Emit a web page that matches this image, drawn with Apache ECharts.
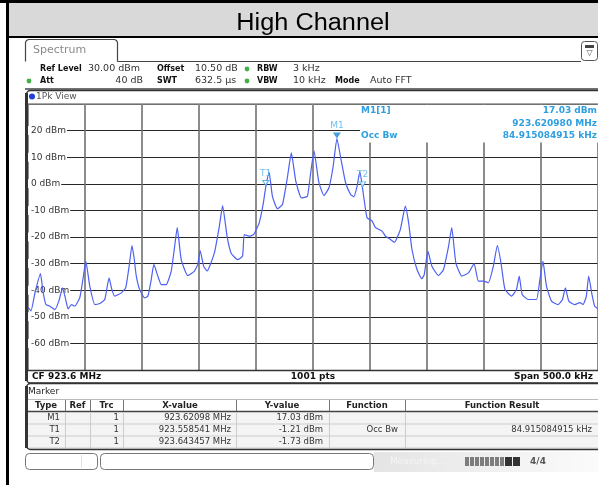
<!DOCTYPE html>
<html><head><meta charset="utf-8">
<script src="https://cdn.jsdelivr.net/npm/echarts@6/dist/echarts.min.js"></script>
<style>html,body{margin:0;padding:0;background:#fff}#c{width:598px;height:485px}</style>
</head><body><div id="c"></div><script>
// Sweep settings
const centerMHz = 923.6;
const spanKHz = 500;
const sweepPoints = 1001;
const levelTicks = [20, 10, 0, -10, -20, -30, -40, -50, -60];

// Trace 1 (1Pk View): offset from centre frequency in kHz, level in dBm
const traceOffsetKHz = [
  -250, -247.4, -243.9, -239.1, -236.9, -234.3, -230.8, -226.4, -222.9, -219.7,
  -217.2, -214.8, -211.8, -208.9, -204.5, -201.5, -199.3, -195.8, -191.4, -187.1,
  -182.7, -178.9, -176.6, -174.0, -168.1, -164.3, -161.3, -158.8, -156.9, -155.0,
  -152.1, -147.7, -144.8, -141.9, -139.6, -136.1, -133.1, -128.8, -124.4, -121.5,
  -119.1, -115.6, -109.9, -104.0, -101.1, -99.0, -95.9, -92.9, -86.5, -82.2,
  -79.3, -75.4, -71.9, -66.2, -61.8, -60.3, -55.9, -52.2, -47.2, -43.5,
  -41.46, -38.5, -35.6, -31.2, -26.8, -22.5, -19.0, -15.1, -10.2, -5.0,
  -3.5, 0.9, 5.2, 9.6, 14.0, 17.7, 20.98, 24.6, 28.6, 33.0,
  35.8, 38.7, 41.1, 43.46, 46.1, 47.5, 51.9, 54.8, 60.6, 63.6,
  67.9, 71.4, 76.6, 81.0, 83.9, 86.8, 91.2, 95.5, 97.6, 100.8,
  104.3, 110.1, 114.5, 118.9, 121.7, 125.3, 130.5, 136.4, 141.3, 145.1,
  149.5, 153.8, 158.2, 161.7, 164.9, 168.4, 174.2, 178.5, 180.9, 183.5,
  188.8, 196.0, 199.0, 201.7, 204.8, 209.2, 215.0, 218.8, 221.4, 224.4,
  229.6, 234.0, 236.9, 239.8, 241.8, 244.7, 247.1, 250
];
const traceLevelDbm = [
  -46.5, -47.8, -41, -33.8, -40.4, -45.4, -46, -47.3, -44, -39.1,
  -43, -47, -45.4, -46, -42.7, -35, -29.1, -38.5, -45.4, -45,
  -43.5, -35.4, -39.5, -42.2, -41, -39.1, -31, -23.2, -28, -34.7,
  -39.7, -42.9, -42.2, -36, -30.3, -34.7, -37.9, -37.9, -32.9, -24,
  -16.5, -28.5, -34.5, -32.8, -30.3, -25.1, -31, -32.8, -26, -16.1,
  -8.2, -19.7, -26, -28.5, -27.2, -19.1, -19.7, -19.1, -14.7, -7.1,
  -1.21, 4.3, -4.7, -9.4, -7.8, 2.3, 11.6, 1.0, -5.3, -4.7,
  -0.9, 12.4, 0.4, -4.4, -1.5, 6.6, 17.03, 9.1, 0.4, -4.0,
  -4.9, -0.9, 4.7, -1.73, -9.7, -12.8, -14, -16.5, -17.8, -19.7,
  -20.9, -22, -17.2, -8.4, -14.7, -24.7, -32.2, -35.7, -34.1, -25.3,
  -31, -34.5, -32.2, -23.5, -16.5, -29.7, -34.7, -33.5, -30, -36.6,
  -36.6, -37.2, -31, -23.2, -29.7, -39.7, -42.2, -39.7, -34.7, -41.6,
  -43.5, -43.5, -36, -29.1, -38.5, -44.1, -45.4, -43.5, -39.1, -44.1,
  -45.4, -44.7, -45.4, -42.2, -34.7, -41.6, -46, -47
];

// Marker table
const markerNames = ['M1', 'T1', 'T2'];
const markerTrace = [1, 1, 1];
const markerFreqMHz = [923.62098, 923.558541, 923.643457];
const markerLevelDbm = [17.03, -1.21, -1.73];
const markerFunction = ['', 'Occ Bw', ''];
const occBwKHz = 84.915084915;

const FONT = '"DejaVu Sans"';
const BLUE_TXT = '#2e9fe0';

function zOf(o, d) { return o.z != null ? o.z : d; }
function txt(x, y, s, o) {
  o = o || {};
  const size = o.size || 9;
  const weight = o.bold ? 'bold ' : '';
  const a = o.align || 'left';
  return {
    type: 'text', x: x, y: y, z: zOf(o, 5), silent: true,
    scaleX: o.scaleX || 1,
    style: {
      text: s, fill: o.color || '#222',
      font: weight + size + 'px ' + (o.family || FONT),
      align: a, verticalAlign: 'middle',
      textAlign: a, textVerticalAlign: 'middle'
    }
  };
}
function ln(x1, y1, x2, y2, color, w, z) {
  return { type: 'line', z: z != null ? z : 4, silent: true,
    shape: { x1: x1, y1: y1, x2: x2, y2: y2 },
    style: { stroke: color, lineWidth: w || 1 } };
}
function box(x, y, w, h, o) {
  o = o || {};
  return { type: 'rect', z: zOf(o, 3), silent: true,
    shape: { x: x, y: y, width: w, height: h, r: o.r || 0 },
    style: { fill: o.fill || 'none', stroke: o.stroke || null, lineWidth: o.lw || 1 } };
}
function dot(cx, cy, r, color) {
  return { type: 'circle', z: 5, silent: true,
    shape: { cx: cx, cy: cy, r: r }, style: { fill: color } };
}

const els = [];
// Page frame and heading
els.push(box(9, 3, 600, 33, { fill: '#d9d9d9', z: 1 }));
els.push(box(0, 0, 598, 3, { fill: '#000', z: 2 }));
els.push(box(6, 0, 3, 485, { fill: '#000', z: 2 }));
els.push(ln(6, 37, 598, 37, '#000', 2, 2));
els.push(txt(313, 24, 'High Channel', { size: 23, family: '"Liberation Sans"', align: 'center', color: '#000', scaleX: 1.1 }));

// Instrument tab and header
els.push({ type: 'polyline', z: 3, silent: true,
  shape: { points: [[25.5, 61.5], [25.5, 42.5], [26.5, 40.5], [28.5, 39.5], [114.5, 39.5], [116.5, 40.5], [117.5, 42.5], [117.5, 61.5]] },
  style: { fill: 'none', stroke: '#444', lineWidth: 1.2 } });
els.push(txt(33, 50, 'Spectrum', { size: 11, color: '#8a8a8a' }));
els.push(ln(117.5, 61.5, 581, 61.5, '#444', 1.2));
els.push(box(581.5, 41.5, 16, 19, { r: 3, stroke: '#555', fill: '#fff' }));
els.push(box(585, 45, 9, 3, { fill: '#444', z: 4 }));
els.push(txt(589.5, 53, '\u25BD', { size: 8, color: '#555', align: 'center' }));

const hb = { bold: true, color: '#111', size: 8 };
const hv = { color: '#333', size: 9.5 };
els.push(txt(40, 69, 'Ref Level', hb));
els.push(txt(88, 69, '30.00 dBm', hv));
els.push(txt(157, 69, 'Offset', hb));
els.push(txt(195, 69, '10.50 dB', hv));
els.push(dot(247, 69, 2.4, '#43b047'));
els.push(txt(257, 69, 'RBW', hb));
els.push(txt(293, 69, '3 kHz', hv));
els.push(dot(29, 81, 2.4, '#43b047'));
els.push(txt(40, 81, 'Att', hb));
els.push(txt(143, 81, '40 dB', Object.assign({ align: 'right' }, hv)));
els.push(txt(157, 81, 'SWT', hb));
els.push(txt(195, 81, '632.5 \u00B5s', hv));
els.push(dot(247, 81, 2.4, '#43b047'));
els.push(txt(257, 81, 'VBW', hb));
els.push(txt(293, 81, '10 kHz', hv));
els.push(txt(335, 81, 'Mode', hb));
els.push(txt(370, 81, 'Auto FFT', hv));
els.push(ln(25, 89, 598, 89, '#444', 1.4));

// View frame
els.push(box(26.5, 90.5, 600, 292.5, { r: 4, stroke: '#333', lw: 1.5, z: 6 }));
els.push(box(25, 93, 3, 288, { fill: '#333', z: 6 }));
els.push(dot(32, 96.5, 3, '#1f3fd6'));
els.push(txt(36, 96.5, '1Pk View', { size: 9, color: '#555' }));
els.push(ln(28, 104, 600, 104, '#8a8a8a', 1.5, 6));
els.push(ln(28, 370.5, 600, 370.5, '#333', 1.5, 6));

// Marker readout block in the diagram
els.push(box(360, 105, 240, 37.5, { fill: '#fff', z: 1 }));
els.push(txt(361, 111, 'M1[1]', { bold: true, color: BLUE_TXT }));
els.push(txt(597, 111, markerLevelDbm[0].toFixed(2) + ' dBm', { bold: true, color: BLUE_TXT, align: 'right' }));
els.push(txt(597, 123.5, markerFreqMHz[0].toFixed(6) + ' MHz', { bold: true, color: BLUE_TXT, align: 'right' }));
els.push(txt(361, 136, markerFunction[1], { bold: true, color: BLUE_TXT }));
els.push(txt(597, 136, occBwKHz.toFixed(9) + ' kHz', { bold: true, color: BLUE_TXT, align: 'right' }));

// Status line under the diagram
els.push(txt(32, 377, 'CF ' + centerMHz.toFixed(1) + ' MHz', { bold: true, color: '#111' }));
els.push(txt(313, 377, sweepPoints + ' pts', { bold: true, color: '#111', align: 'center' }));
els.push(txt(593, 377, 'Span ' + spanKHz.toFixed(1) + ' kHz', { bold: true, color: '#111', align: 'right' }));

// Marker table
els.push(box(26.5, 383.5, 600, 66, { r: 4, stroke: '#333', lw: 1.5, z: 6 }));
els.push(box(25, 386, 3, 62, { fill: '#333', z: 6 }));
els.push(txt(28, 392, 'Marker', { size: 9, color: '#222' }));
els.push(box(28, 411.5, 572, 37, { fill: '#f4f4f4', z: 2 }));
els.push(ln(28, 399.5, 598, 399.5, '#bbb', 1));
els.push(ln(28, 411.5, 598, 411.5, '#444', 1.5));
els.push(ln(28, 424, 598, 424, '#ccc', 1));
els.push(ln(28, 436, 598, 436, '#ccc', 1));
els.push(ln(28, 448, 598, 448, '#ccc', 1));
const colSep = [65, 90, 123, 236, 329, 405];
colSep.forEach(function (x) {
  els.push(ln(x + 0.5, 400, x + 0.5, 411, '#777', 1));
  els.push(ln(x + 0.5, 412, x + 0.5, 448, '#ccc', 1));
});
const headX = [46, 77.5, 106.5, 180, 282, 367, 502];
const headTxt = ['Type', 'Ref', 'Trc', 'X-value', 'Y-value', 'Function', 'Function Result'];
headTxt.forEach(function (h, i) {
  els.push(txt(headX[i], 405.5, h, { bold: true, size: 8.5, color: '#222', align: 'center' }));
});
const rowY = [418, 430, 442];
markerNames.forEach(function (n, i) {
  const y = rowY[i];
  els.push(txt(60, y, n, { size: 8.5, color: '#333', align: 'right' }));
  els.push(txt(119, y, String(markerTrace[i]), { size: 8.5, color: '#333', align: 'right' }));
  els.push(txt(231, y, String(markerFreqMHz[i]) + ' MHz', { size: 8.5, color: '#333', align: 'right' }));
  els.push(txt(323, y, markerLevelDbm[i].toFixed(2) + ' dBm', { size: 8.5, color: '#333', align: 'right' }));
  if (markerFunction[i]) {
    els.push(txt(398, y, markerFunction[i], { size: 8.5, color: '#333', align: 'right' }));
    els.push(txt(592, y, occBwKHz.toFixed(9) + ' kHz', { size: 8.5, color: '#333', align: 'right' }));
  }
});

// Bottom soft-key bar
els.push(box(25.5, 453.5, 72, 16, { r: 4, stroke: '#777', fill: '#fff' }));
els.push(ln(81.5, 455, 81.5, 468, '#e2e2e2', 1));
els.push(box(100.5, 453.5, 273, 16, { r: 4, stroke: '#777', fill: '#fff' }));
els.push({ type: 'rect', z: 2, silent: true, shape: { x: 374, y: 452, width: 224, height: 20 },
  style: { fill: new echarts.graphic.LinearGradient(0, 0, 1, 0, [
    { offset: 0, color: '#e4e4e4' }, { offset: 1, color: '#fbfbfb' }]) } });
els.push(txt(390, 462, 'Measuring...', { size: 9, color: '#f4f4f4' }));
for (let k = 0; k < 8; k++) {
  els.push(box(465 + k * 5, 457, 4, 9, { fill: '#7d7d7d', z: 4 }));
}
els.push(box(505, 457, 7, 9, { fill: '#333', z: 4 }));
els.push(box(513, 457, 7, 9, { fill: '#333', z: 4 }));
els.push(txt(538, 461.5, '4/4', { bold: true, size: 9, color: '#555', align: 'center' }));

const chart = echarts.init(document.getElementById('c'), null, { renderer: 'canvas' });
chart.setOption({
  animation: false,
  backgroundColor: '#fff',
  grid: { left: 28, top: 104, width: 572, height: 266, containLabel: false },
  xAxis: {
    type: 'value', min: -spanKHz / 2, max: spanKHz / 2, interval: 50,
    axisLine: { show: false }, axisTick: { show: false }, axisLabel: { show: false },
    splitLine: { show: true, lineStyle: { color: '#707070', width: 1.6 } }
  },
  yAxis: {
    type: 'value', min: -70, max: 30, interval: 10,
    axisLine: { show: false }, axisTick: { show: false },
    axisLabel: {
      inside: true, margin: 0, showMinLabel: false, showMaxLabel: false,
      formatter: function (v) { return levelTicks.indexOf(v) >= 0 ? v + ' dBm' : ''; },
      color: '#333', fontSize: 9, fontFamily: 'DejaVu Sans',
      backgroundColor: '#fff', padding: [0, 1, 0, 3]
    },
    splitLine: { show: true, lineStyle: { color: '#262626', width: 1 } }
  },
  graphic: { elements: els },
  series: [
    {
      name: 'Trace 1', type: 'line', z: 8,
      data: traceOffsetKHz.map(function (k, i) { return [k, traceLevelDbm[i]]; }),
      showSymbol: false, smooth: 0.15,
      lineStyle: { color: '#4d60f2', width: 1.2 }
    },
    {
      name: 'Markers', type: 'scatter', z: 9,
      data: markerNames.map(function (n, i) {
        const isM = n.charAt(0) === 'M';
        return {
          name: n,
          value: [(markerFreqMHz[i] - centerMHz) * 1000, markerLevelDbm[i]],
          symbol: 'triangle', symbolRotate: 180,
          symbolSize: isM ? [8, 6] : [6, 5],
          symbolOffset: [0, isM ? -3 : -4],
          itemStyle: isM ? { color: '#1a8ad4' } : { color: '#fff', borderColor: '#3aa3e3', borderWidth: 1 },
          label: {
            show: true, position: 'top', distance: 2, formatter: n,
            color: '#4fb0e8', fontSize: 9, fontFamily: 'DejaVu Sans'
          }
        };
      })
    }
  ]
});
</script></body></html>
